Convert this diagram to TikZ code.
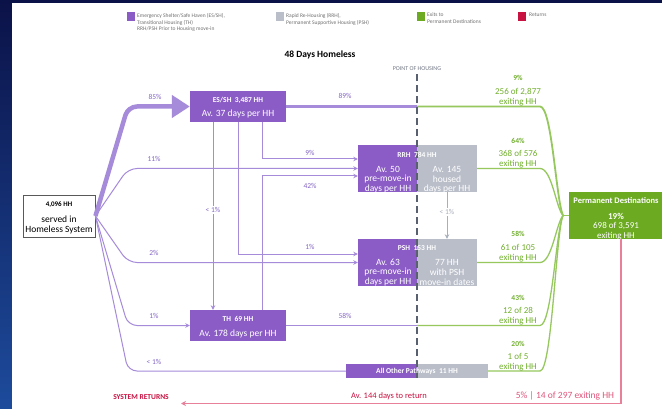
\documentclass[tikz,border=0pt]{standalone}
\usepackage{fontspec}
\setmainfont{Carlito}
\usetikzlibrary{arrows.meta}

\definecolor{navy}{HTML}{0B1248}
\definecolor{navylow}{HTML}{1D4B9C}
\definecolor{boxpurple}{HTML}{8B5CC6}
\definecolor{flowpurple}{HTML}{A58BDA}
\definecolor{pctpurple}{HTML}{8466C4}
\definecolor{boxgrey}{HTML}{B9BEC9}
\definecolor{linegrey}{HTML}{A8AEBA}
\definecolor{boxgreen}{HTML}{6CAA22}
\definecolor{exitgreen}{HTML}{96C85E}
\definecolor{labgreen}{HTML}{72B02E}
\definecolor{rettext}{HTML}{C81241}
\definecolor{retpink}{HTML}{E0577C}
\definecolor{retline}{HTML}{E8809A}
\definecolor{dashgrey}{HTML}{596070}
\definecolor{legendgrey}{HTML}{707070}

\begin{document}
\begin{tikzpicture}[x=1pt,y=-1pt,
  pbox/.style={fill=boxpurple,inner sep=0pt,draw=none},
  gbox/.style={fill=boxgrey,inner sep=0pt,draw=none},
  wtitle/.style={text=white,inner sep=0pt,font=\bfseries\fontsize{7.5}{8}\selectfont},
  wtext/.style={text=white,inner sep=0pt,font=\fontsize{9.5}{10}\selectfont},
  flow/.style={draw=flowpurple,line width=1pt},
  fan/.style={flow,rounded corners=9pt},
  tip/.style={-{Stealth[length=4.5pt,width=4.5pt]}},
  exitline/.style={draw=exitgreen,line width=1.3pt},
  pct/.style={text=pctpurple,font=\fontsize{7.5}{8}\selectfont,inner sep=1pt},
  gpct/.style={text=labgreen,font=\bfseries\fontsize{7.5}{8}\selectfont,inner sep=0pt},
  gcount/.style={text=labgreen,font=\fontsize{9}{10}\selectfont,inner sep=0pt},
  legendtext/.style={text=legendgrey,font=\fontsize{5.5}{6.8}\selectfont,align=left,anchor=north west,inner sep=0pt},
  swatch/.style={inner sep=0pt,minimum width=7.5,minimum height=8.5,anchor=north west},
]
\useasboundingbox (0,0) rectangle (662,409);

% slide background and white canvas
\fill[navy] (0,0) rectangle (662,409);
\shade[top color=navy,bottom color=navylow] (0,0) rectangle (12,409);
\fill[white] (12,3) rectangle (662,409);

% legend
\node[swatch,fill=boxpurple] (swp) at (127,12) {};
\node[legendtext] (lgp) at (137,13) {Emergency Shelter/Safe Haven (ES/SH),\\Transitional Housing (TH)\\RRH/PSH Prior to Housing move-in};
\node[swatch,fill=boxgrey] (swg) at (276,12) {};
\node[legendtext] (lgg) at (286,13) {Rapid Re-Housing (RRH),\\Permanent Supportive Housing (PSH)};
\node[swatch,fill=boxgreen] (swe) at (417,12) {};
\node[legendtext] (lge) at (427,13) {Exits to\\Permanent Destinations};
\node[swatch,fill=rettext] (swr) at (518,12) {};
\node[legendtext] (lgr) at (529,13) {Returns};

% headings
\node[font=\bfseries\fontsize{9.5}{10}\selectfont,inner sep=0pt] (title) at (320,55) {48 Days Homeless};
\node[text=dashgrey!85,font=\fontsize{6}{7}\selectfont,inner sep=0pt] (poh) at (417,69) {POINT OF HOUSING};

% boxes
\node[draw=black!65,line width=0.9pt,fill=white,minimum width=72,minimum height=42,inner sep=0pt] (hh) at (59,216) {};
\node[pbox,minimum width=96,minimum height=31] (essh) at (238,106.5) {};
\node[pbox,minimum width=96,minimum height=31] (th) at (238,325.5) {};
\node[pbox,minimum width=59,minimum height=47] (rrhP) at (387.5,168.5) {};
\node[gbox,minimum width=60,minimum height=47] (rrhG) at (447,168.5) {};
\node[pbox,minimum width=59,minimum height=47] (pshP) at (387.5,262.5) {};
\node[gbox,minimum width=60,minimum height=47] (pshG) at (447,262.5) {};
\node[pbox,minimum width=71,minimum height=14] (othP) at (381.5,371) {};
\node[gbox,minimum width=71,minimum height=14] (othG) at (452.5,371) {};
\node[fill=boxgreen,inner sep=0pt,minimum width=93,minimum height=47] (pd) at (615.5,215.5) {};

% entries from the homeless system
\draw[fan,line width=4.5pt,-{Triangle[length=18pt,width=22pt]}] (hh.east) -- (128,106.5) -- (essh.west);
\draw[fan,tip] (hh.east) -- (128,168.5) -- (rrhP.west);
\draw[fan,tip] (hh.east) -- (128,262.5) -- (pshP.west);
\draw[fan,tip] (hh.east) -- (128,325.5) -- (th.west);
\draw[fan] (hh.east) -- (128,371) -- (othP.west);

% transfers between programs
\draw[flow,tip] ([xshift=24pt]essh.south) |- ([yshift=9.5pt]rrhP.west);
\draw[flow,tip] (essh.south) |- ([yshift=8.5pt]pshP.west);
\draw[flow,tip] ([xshift=-25pt]essh.south) -- ([xshift=-25pt]th.north);
\draw[flow,tip] ([xshift=24pt]th.north) |- ([yshift=-7.5pt]rrhP.west);
\draw[draw=linegrey,line width=0.8pt,tip] (rrhG.south) -- (pshG.north);

% flows crossing the point of housing
\coordinate (hA) at (417,106.5);
\coordinate (hB) at (417,325.5);
\coordinate (hub) at (563,215.5);
\draw[flow,line width=3pt] (essh.east) -- (hA);
\draw[flow,line width=1.2pt] (th.east) -- (hB);

% exits to permanent destinations
\draw[exitline,line width=1.8pt] (hA) -- (540,106.5) .. controls (552,106.5) and (556,200) .. (hub);
\draw[exitline] (rrhG.east) -- (540,168.5) .. controls (552,168.5) and (556,208) .. (hub);
\draw[exitline] (pshG.east) -- (540,262.5) .. controls (552,262.5) and (556,224) .. (hub);
\draw[exitline] (hB) -- (540,325.5) .. controls (552,325.5) and (556,230) .. (hub);
\draw[exitline] (othG.east) -- (540,371) .. controls (552,371) and (556,232) .. (hub);
\draw[exitline] (hub) -- (pd.west);

% returns
\coordinate (retend) at (181,403.5);
\draw[draw=retline,line width=1.2pt,-{Stealth[length=5pt,width=5pt]}] ([xshift=5.5pt]pd.south) |- (retend);

% point of housing marker
\coordinate (pohend) at (417,381);
\draw[draw=dashgrey,line width=2pt,dash pattern=on 7pt off 4pt] ([yshift=-3pt]poh.south) -- (pohend);

% box texts
\node[inner sep=0pt,font=\bfseries\fontsize{7}{8}\selectfont] (hhA) at (59,205) {4,096 HH};
\node[inner sep=0pt,font=\fontsize{9.5}{10}\selectfont] (hhB) at (59,219) {served in};
\node[inner sep=0pt,font=\fontsize{9.5}{10}\selectfont] (hhC) at (59,230) {Homeless System};

\node[wtitle] (esshA) at (238,100) {ES/SH\ \ 3,487 HH};
\node[wtext] (esshB) at (238,114) {Av. 37 days per HH};
\node[wtitle] (thA) at (238,319) {TH\ \ 69 HH};
\node[wtext] (thB) at (238,334) {Av. 178 days per HH};

\node[wtitle] (rrhA) at (417,155) {RRH\ \ 784 HH};
\node[wtext] (rrhB) at (388,169) {Av. 50};
\node[wtext] (rrhC) at (388,179) {pre-move-in};
\node[wtext] (rrhD) at (388,189) {days per HH};
\node[wtext] (rrhE) at (447,169) {Av. 145};
\node[wtext] (rrhF) at (447,179) {housed};
\node[wtext] (rrhG2) at (447,189) {days per HH};

\node[wtitle] (pshA) at (417,248) {PSH\ \ 153 HH};
\node[wtext] (pshB) at (388,262) {Av. 63};
\node[wtext] (pshC) at (388,272) {pre-move-in};
\node[wtext] (pshD) at (388,282) {days per HH};
\node[wtext] (pshE) at (447,262) {77 HH};
\node[wtext] (pshF) at (447,272) {with PSH};
\node[wtext] (pshG2) at (447,282) {move-in dates};

\node[wtitle] (othA) at (417,371) {All Other Pathways\ \ 11 HH};

\node[wtitle,font=\bfseries\fontsize{8.5}{9}\selectfont] (pdA) at (616,200.5) {Permanent Destinations};
\node[wtitle,font=\bfseries\fontsize{9}{10}\selectfont] (pdB) at (616,216) {19\%};
\node[wtext,font=\fontsize{9}{10}\selectfont] (pdC) at (616,226) {698 of 3,591};
\node[wtext,font=\fontsize{9}{10}\selectfont] (pdD) at (616,236) {exiting HH};

% flow percentages
\node[pct] (p85) at (155,97) {85\%};
\node[pct] (p11) at (154,159) {11\%};
\node[pct] (p2) at (154,253) {2\%};
\node[pct] (p1) at (154,316) {1\%};
\node[pct] (p0) at (154,362) {< 1\%};
\node[pct] (p89) at (345,96) {89\%};
\node[pct] (p9) at (310,153) {9\%};
\node[pct] (p42) at (310,186) {42\%};
\node[pct] (p1b) at (310,247) {1\%};
\node[pct,fill=white] (p0b) at (213,210) {< 1\%};
\node[pct] (p58) at (345,316) {58\%};
\node[text=linegrey,font=\fontsize{7.5}{8}\selectfont,fill=white,inner sep=1pt] (p0c) at (447,212) {< 1\%};

% exit counts
\node[gpct] (e1) at (518,78) {9\%};
\node[gcount] (e1b) at (518,91.5) {256 of 2,877};
\node[gcount] (e1c) at (518,102.5) {exiting HH};
\node[gpct] (e2) at (518,141) {64\%};
\node[gcount] (e2b) at (518,153.5) {368 of 576};
\node[gcount] (e2c) at (518,164.5) {exiting HH};
\node[gpct] (e3) at (518,234) {58\%};
\node[gcount] (e3b) at (518,247.5) {61 of 105};
\node[gcount] (e3c) at (518,258.5) {exiting HH};
\node[gpct] (e4) at (518,298) {43\%};
\node[gcount] (e4b) at (518,310.5) {12 of 28};
\node[gcount] (e4c) at (518,321.5) {exiting HH};
\node[gpct] (e5) at (518,344) {20\%};
\node[gcount] (e5b) at (518,356) {1 of 5};
\node[gcount] (e5c) at (518,367.5) {exiting HH};

% return labels
\node[text=rettext,font=\bfseries\fontsize{7.5}{8}\selectfont,inner sep=0pt] (sysret) at (141,397) {SYSTEM RETURNS};
\node[text=rettext,font=\fontsize{8.5}{9}\selectfont,inner sep=0pt] (retdays) at (389,396) {Av. 144 days to return};
\node[text=retpink,font=\fontsize{9.5}{10}\selectfont,inner sep=0pt] (retcount) at (565,396) {5\% | 14 of 297 exiting HH};
\end{tikzpicture}
\end{document}
